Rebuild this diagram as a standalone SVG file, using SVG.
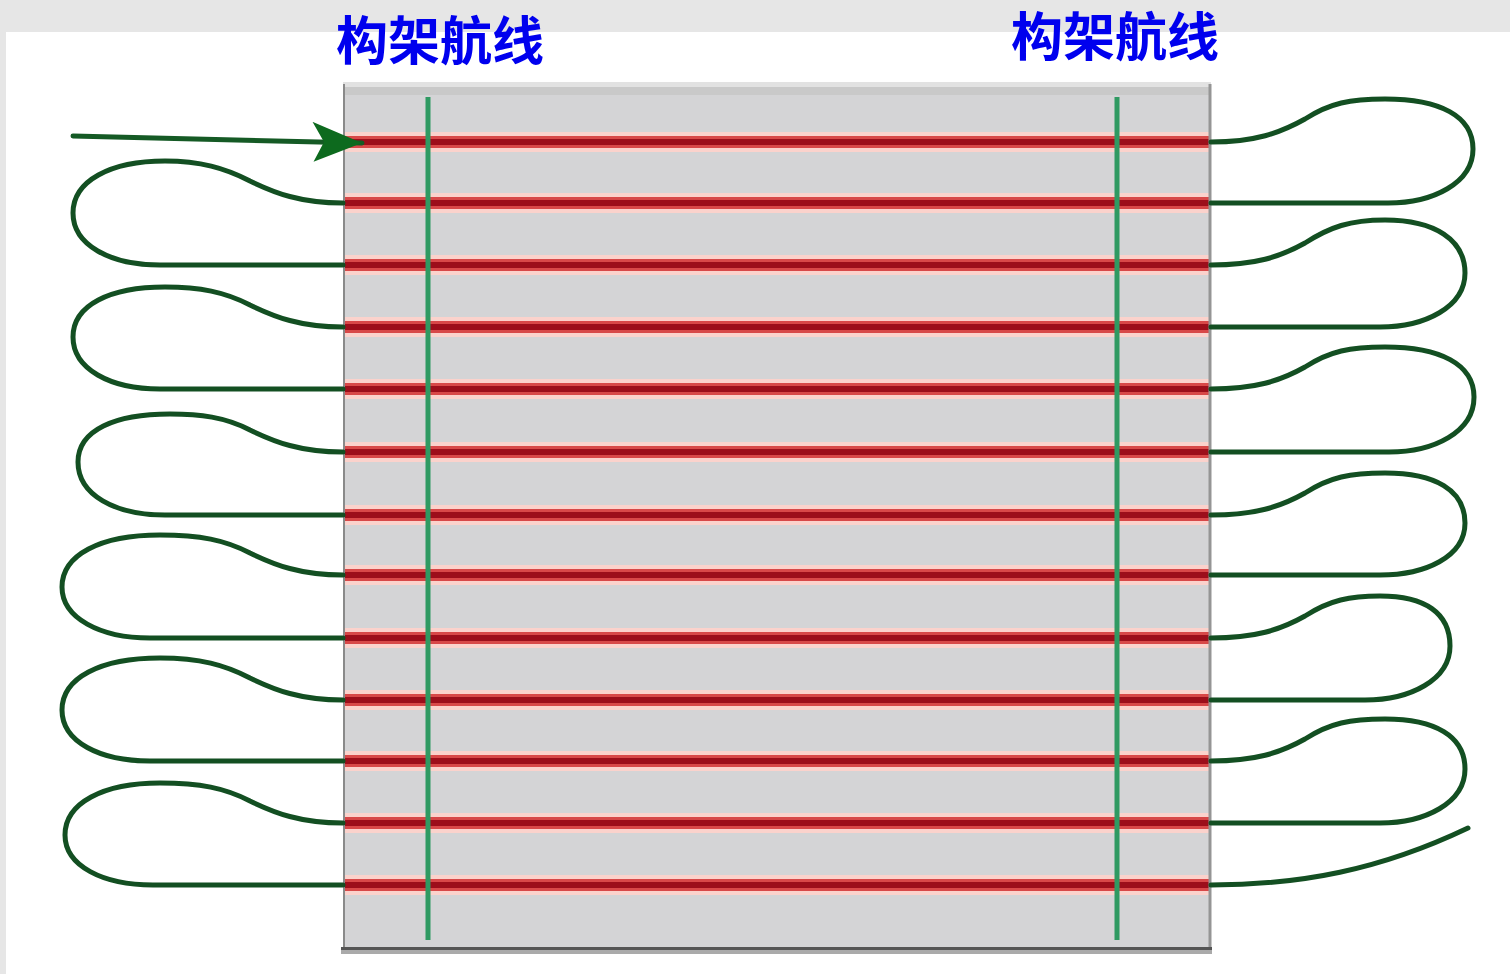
<svg xmlns="http://www.w3.org/2000/svg" width="1510" height="974" viewBox="0 0 1510 974">
<style>
.halo{stroke:#fbd2cc;stroke-width:20;fill:none}
.mid{stroke:#d84848;stroke-width:12;fill:none}
.core{stroke:#9c0e1a;stroke-width:6;fill:none}
.loop{stroke:#134f22;stroke-width:5;fill:none;stroke-linecap:round;stroke-linejoin:round}
.frame{stroke:#2f9a62;stroke-width:5}
.lbl{font-family:"Noto Sans CJK SC","Noto Sans",sans-serif;font-weight:bold;font-size:52px;fill:#0000ee}
</style>
<defs>
<marker id="ah" markerUnits="userSpaceOnUse" markerWidth="60" markerHeight="50" viewBox="0 0 60 50" refX="50" refY="20" orient="auto">
<polygon points="50,20 0,0 12,20 2,40" fill="#0d6a1e"/>
</marker>
</defs>
<rect x="0" y="0" width="1510" height="974" fill="#e6e6e6"/>
<rect x="6" y="32" width="1504" height="942" fill="#ffffff"/>
<g id="area">
<rect x="343" y="82" width="868" height="868" fill="#d4d4d6"/>
<rect x="343" y="82" width="868" height="5" fill="#e2e2e2"/>
<rect x="343" y="87" width="868" height="8" fill="#c9c9c9"/>
</g>
<g id="passes">
<g class="halo">
<path d="M345,142H1211M345,203H1211M345,265H1211M345,327H1211M345,389H1211M345,452H1211M345,515H1211M345,575H1211M345,638H1211M345,700H1211M345,761H1211M345,823H1211M345,885H1211"/>
</g>
<g class="mid">
<path d="M345,142H1211M345,203H1211M345,265H1211M345,327H1211M345,389H1211M345,452H1211M345,515H1211M345,575H1211M345,638H1211M345,700H1211M345,761H1211M345,823H1211M345,885H1211"/>
</g>
<g class="core">
<path d="M345,142H1211M345,203H1211M345,265H1211M345,327H1211M345,389H1211M345,452H1211M345,515H1211M345,575H1211M345,638H1211M345,700H1211M345,761H1211M345,823H1211M345,885H1211"/>
</g>
</g>
<g id="borders">
<line x1="344" y1="84" x2="344" y2="950" stroke="#8a8a8a" stroke-width="2"/>
<line x1="1210" y1="84" x2="1210" y2="950" stroke="#959595" stroke-width="3"/>
<rect x="341" y="947" width="871" height="3" fill="#555555"/>
<rect x="341" y="950" width="871" height="4" fill="#aaaaaa"/>
</g>
<g id="frame-left"><line class="frame" x1="428" y1="97" x2="428" y2="940"/></g>
<g id="frame-right"><line class="frame" x1="1117" y1="97" x2="1117" y2="940"/></g>
<g id="label-left"><text class="lbl" x="336" y="60">构架航线</text></g>
<g id="label-right"><text class="lbl" x="1011" y="56">构架航线</text></g>
<g id="connectors">
<path d="M73,136 L362,143" stroke="#155a25" stroke-width="5" fill="none" stroke-linecap="round" marker-end="url(#ah)"/>
<path class="loop" d="M1211,142 C1255,142 1280,133 1305,119 C1330,103 1350,99 1385,99 C1440,99 1473,116 1473,149 C1473,183 1433,203 1388,203 L1211,203"/>
<path class="loop" d="M1211,265 C1255,265 1280,257 1305,243 C1330,227 1350,220 1385,220 C1435,220 1465,240 1465,273 C1465,307 1425,327 1380,327 L1211,327"/>
<path class="loop" d="M1211,389 C1255,389 1280,381 1305,367 C1330,351 1350,347 1385,347 C1440,347 1474,364 1474,397 C1474,432 1434,452 1389,452 L1211,452"/>
<path class="loop" d="M1211,515 C1255,515 1280,507 1305,493 C1330,477 1350,473 1385,473 C1435,473 1465,490 1465,523 C1465,557 1425,575 1380,575 L1211,575"/>
<path class="loop" d="M1211,638 C1255,638 1280,630 1305,616 C1330,600 1350,596 1380,596 C1425,596 1450,613 1450,646 C1450,680 1410,700 1365,700 L1211,700"/>
<path class="loop" d="M1211,761 C1255,761 1280,753 1305,739 C1330,723 1350,719 1385,719 C1435,719 1465,736 1465,769 C1465,803 1425,823 1380,823 L1211,823"/>
<path class="loop" d="M1211,885 C1300,885 1380,870 1468,828"/>
<path class="loop" d="M343,203 C300,203 275,193 250,181 C225,168 200,161 165,161 C110,161 73,181 73,213 C73,245 110,265 160,265 L343,265"/>
<path class="loop" d="M343,327 C300,327 275,317 250,305 C225,292 200,287 165,287 C110,287 73,305 73,337 C73,369 110,389 160,389 L343,389"/>
<path class="loop" d="M343,452 C300,452 275,442 250,430 C225,417 200,414 170,414 C115,414 78,430 78,462 C78,495 115,515 165,515 L343,515"/>
<path class="loop" d="M343,575 C300,575 275,565 250,553 C225,540 200,535 160,535 C100,535 62,555 62,587 C62,618 100,638 150,638 L343,638"/>
<path class="loop" d="M343,700 C300,700 275,690 250,678 C225,665 200,658 160,658 C100,658 62,678 62,710 C62,742 100,761 150,761 L343,761"/>
<path class="loop" d="M343,823 C300,823 275,813 250,801 C225,788 200,783 160,783 C103,783 65,803 65,835 C65,866 103,885 153,885 L343,885"/>
</g>
</svg>
